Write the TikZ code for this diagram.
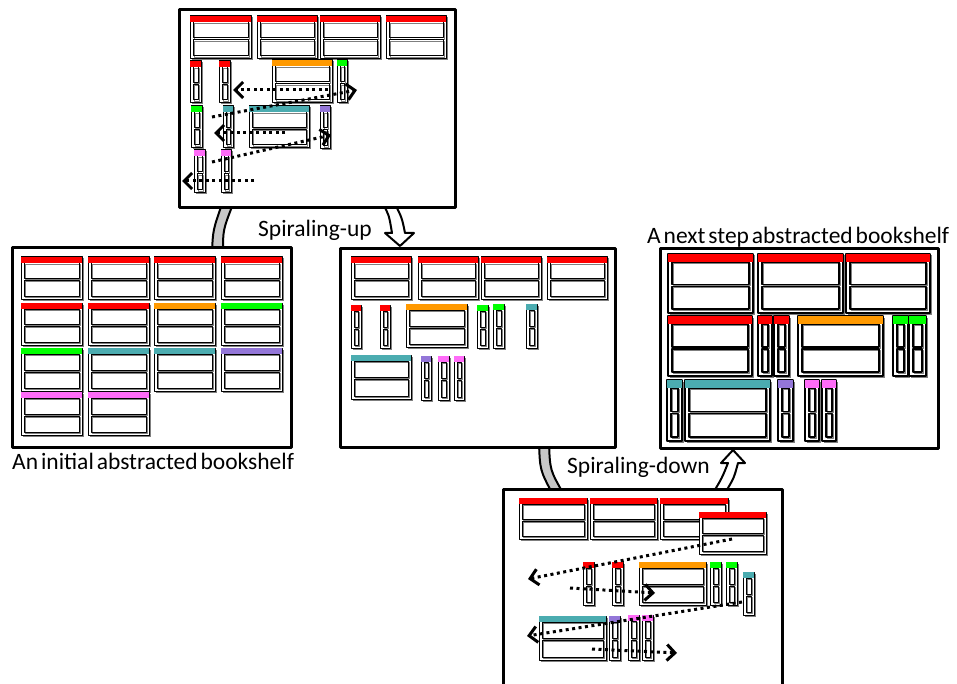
\documentclass[tikz,border=0pt]{standalone}
\usepackage{fontspec}
\setmainfont{Carlito}[WordSpace=0.55]
\usetikzlibrary{arrows.meta}

\definecolor{shelfred}{HTML}{FF0000}
\definecolor{shelforange}{HTML}{FF9900}
\definecolor{shelfgreen}{HTML}{00FF00}
\definecolor{shelfteal}{HTML}{4BACB0}
\definecolor{shelfpurple}{HTML}{9376D8}
\definecolor{shelfpink}{HTML}{FF6CF8}
\definecolor{bookshadow}{HTML}{7F7F7F}
\definecolor{bandgray}{HTML}{C8C8C8}

% one abstracted book: x, y, width, height, bar height, colour
\newcommand{\shelfbook}[6]{%
  \pgfmathsetmacro\bookpad{#5/2}
  \pgfmathsetmacro\bookmid{#2+(#5+#4-\bookpad)/2}
  \fill[bookshadow] (#1+1.5,#2+1.5) rectangle (#1+#3+1.5,#2+#4+1.5);
  \draw[bookedge,fill=white] (#1,#2) rectangle (#1+#3,#2+#4);
  \draw[bookshadow,line width=0.8] (#1+\bookpad+1,#2+#5+1) rectangle (#1+#3-\bookpad+1,\bookmid);
  \draw[bookshadow,line width=0.8] (#1+\bookpad+1,\bookmid+2) rectangle (#1+#3-\bookpad+1,#2+#4-\bookpad+1);
  \draw[bookedge] (#1+\bookpad,#2+#5) rectangle (#1+#3-\bookpad,\bookmid-1);
  \draw[bookedge] (#1+\bookpad,\bookmid+1) rectangle (#1+#3-\bookpad,#2+#4-\bookpad);
  \fill[#6] (#1,#2) rectangle (#1+#3,#2+#5);
}

\begin{document}
\begin{tikzpicture}[
  x=1pt,
  y=-1pt,
  line join=round,
  panel/.style={draw=black,fill=white,line width=3},
  bookedge/.style={draw=black,line width=1},
  band/.style={draw=black,fill=bandgray,line width=2},
  hollowarrow/.style={draw=black,fill=white,line width=2},
  move/.style={line width=3,dash pattern=on 3 off 3.5,
    -{Straight Barb[length=8,width=16]}},
  labeltext/.style={inner sep=0,font=\fontsize{23.5}{26}\selectfont}
]
  \useasboundingbox (0,0) rectangle (957,684);
  \clip (0,0) rectangle (957,684);

  % Spiral connectors behind the panels.
  \draw[band] (212,252) .. controls (213,230) .. (222,204) -- (233,204)
    .. controls (223,230) .. (223,252) -- cycle;
  \draw[hollowarrow] (383,204) .. controls (389,215) .. (392,233) -- (385,233)
    -- (400,246) -- (414,233) -- (405,233) .. controls (402,218) .. (395,204) -- cycle;
  \draw[band] (539,443) .. controls (540,470) .. (552,493) -- (563,493)
    .. controls (550,470) .. (549,443) -- cycle;
  \draw[hollowarrow] (713,493) .. controls (722,478) .. (728,463) -- (721,463)
    -- (733,450) -- (745,463) -- (738,463) .. controls (734,478) .. (725,493) -- cycle;

  % Panel frames.
  \draw[panel] (179,10) rectangle (455,208);
  \draw[panel] (12,248) rectangle (291,447);
  \draw[panel] (340,249) rectangle (615,447);
  \draw[panel] (660,249) rectangle (938,448);
  \draw[panel] (503,489) rectangle (782,700);

  % Top panel: books being rearranged.
  \foreach \x/\y/\w/\h/\c in {190/16/61/43/shelfred,257/16/60/43/shelfred,
    320/16/60/43/shelfred,386/16/60/43/shelfred,190/61/11/42/shelfred,
    219/61/11/42/shelfred,272/60/60/43/shelforange,337/60/10/43/shelfgreen,
    191/106/11/42/shelfgreen,223/106/10/42/shelfteal,249/106/60/42/shelfteal,
    320/106/10/43/shelfpurple,194/150/11/43/shelfpink,221/150/10/43/shelfpink} {
    \shelfbook{\x}{\y}{\w}{\h}{6}{\c}
  }

  % Left panel: initial grid of equal books.
  \foreach \x/\y/\h/\c in {21/257/42/shelfred,88/257/42/shelfred,
    154/257/42/shelfred,221/257/42/shelfred,21/303/42/shelfred,
    88/303/42/shelfred,154/303/42/shelforange,221/303/42/shelfgreen,
    21/348/43/shelfgreen,88/348/43/shelfteal,154/348/43/shelfteal,
    221/348/43/shelfpurple,21/392/43/shelfpink,88/392/43/shelfpink} {
    \shelfbook{\x}{\y}{61}{\h}{6}{\c}
  }

  % Middle panel.
  \foreach \x/\y/\w/\h/\c in {351/257/60/42/shelfred,418/257/60/42/shelfred,
    481/257/60/42/shelfred,547/257/60/42/shelfred,351/305/10/43/shelfred,
    380/305/10/43/shelfred,406/304/61/43/shelforange,477/305/11/43/shelfgreen,
    493/304/11/44/shelfgreen,526/304/11/44/shelfteal,351/355/60/44/shelfteal,
    421/356/10/44/shelfpurple,438/356/11/44/shelfpink,454/356/10/44/shelfpink} {
    \shelfbook{\x}{\y}{\w}{\h}{6}{\c}
  }

  % Right panel: next step, drawn larger.
  \begin{scope}[bookedge/.style={draw=black,line width=1.7}]
    \foreach \x/\y/\w/\h/\c in {668/254/85/59/shelfred,758/254/85/59/shelfred,
      846/254/84/59/shelfred,668/316/84/60/shelfred,758/316/14/60/shelfred,
      774/316/15/60/shelfred,798/316/85/60/shelforange,893/316/15/60/shelfgreen,
      909/316/17/60/shelfgreen,667/380/15/61/shelfteal,685/380/85/61/shelfteal,
      778/380/15/61/shelfpurple,805/380/14/61/shelfpink,822/380/14/61/shelfpink} {
      \shelfbook{\x}{\y}{\w}{\h}{8}{\c}
    }
  \end{scope}

  % Bottom panel.
  \foreach \x/\y/\w/\h/\c in {519/498/68/41/shelfred,590/498/67/41/shelfred,
    660/498/68/41/shelfred,699/512/67/42/shelfred,583/562/11/43/shelfred,
    612/562/11/43/shelfred,639/562/67/43/shelforange,710/562/11/43/shelfgreen,
    726/562/11/43/shelfgreen,743/572/11/43/shelfteal,539/616/67/44/shelfteal,
    609/616/11/44/shelfpurple,628/615/11/45/shelfpink,642/615/11/45/shelfpink} {
    \shelfbook{\x}{\y}{\w}{\h}{6}{\c}
  }

  % Dotted moves.
  \coordinate (up1s) at (328,90);  \coordinate (up1e) at (233,90);
  \coordinate (up2s) at (212,117); \coordinate (up2e) at (357,90);
  \coordinate (up3s) at (285,133); \coordinate (up3e) at (214,133);
  \coordinate (up4s) at (212,162); \coordinate (up4e) at (331,135);
  \coordinate (up5s) at (254,181); \coordinate (up5e) at (182,181);
  \coordinate (dn1s) at (732,539); \coordinate (dn1e) at (528,579);
  \coordinate (dn2s) at (570,588); \coordinate (dn2e) at (655,593);
  \coordinate (dn3s) at (742,602); \coordinate (dn3e) at (527,636);
  \coordinate (dn4s) at (592,649); \coordinate (dn4e) at (677,653);
  \foreach \m in {up1,up2,up3,up4,up5,dn1,dn2,dn3,dn4} {
    \draw[move] (\m s) -- (\m e);
  }

  % Labels.
  \node[labeltext,anchor=base west] (uplabel) at (258,237) {Spiraling-up};
  \node[labeltext,anchor=base west] (downlabel) at (567,473) {Spiraling-down};
  \node[labeltext,anchor=base west] (initlabel) at (12,469) {An initial abstracted bookshelf};
  \node[labeltext,anchor=base west] (nextlabel) at (647,244) {A next step abstracted bookshelf};
\end{tikzpicture}
\end{document}
